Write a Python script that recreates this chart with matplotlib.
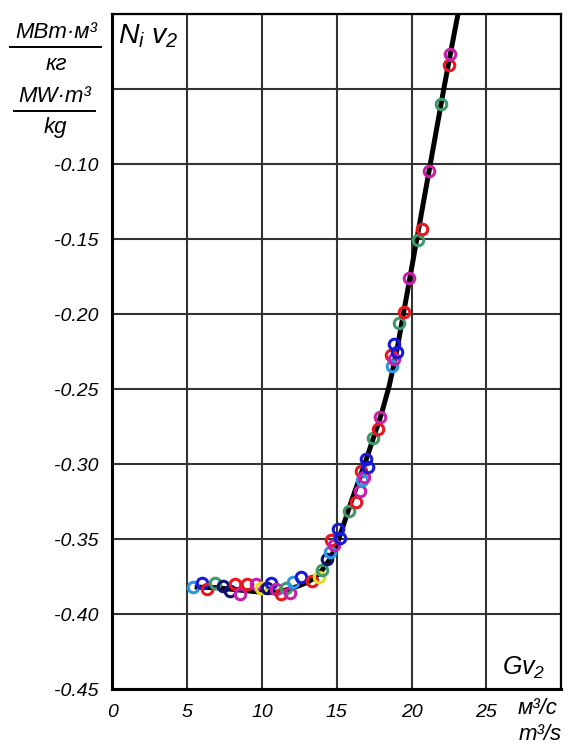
import matplotlib
matplotlib.use("Agg")
import matplotlib.pyplot as plt
from matplotlib.lines import Line2D

plt.rcParams['font.family'] = ['Liberation Sans', 'DejaVu Sans']
plt.rcParams['mathtext.fontset'] = 'custom'
plt.rcParams['mathtext.it'] = 'Liberation Sans:italic'
plt.rcParams['mathtext.rm'] = 'Liberation Sans:italic'

# fitted curve
curve_x = [5.5, 7.0, 8.5, 10.0, 11.0, 12.0, 13.0, 13.5, 14.0, 14.5, 15.0, 15.5,
           16.0, 16.5, 17.0, 17.5, 18.0, 18.5, 19.0, 19.45, 19.9, 20.35, 20.8,
           21.25, 21.7, 22.15, 22.62, 23.1]
curve_y = [-0.382, -0.3825, -0.384, -0.3855, -0.3855, -0.383, -0.379, -0.376,
           -0.371, -0.364, -0.354, -0.339, -0.324, -0.310, -0.296, -0.281,
           -0.266, -0.248, -0.225, -0.200, -0.175, -0.150, -0.125, -0.100,
           -0.075, -0.050, -0.025, 0.0]

# measured points
pt_x = [5.41, 5.99, 6.33, 6.87, 7.40, 7.87, 8.20, 8.54, 9.01, 9.61, 9.95, 10.35,
        10.61, 10.95, 11.28, 11.62, 11.89, 12.09, 12.60, 13.34, 13.78, 14.01,
        14.35, 14.57, 14.64, 14.79, 15.06, 15.24, 15.84, 16.31, 16.58, 16.62,
        16.69, 16.80, 16.96, 17.11, 17.40, 17.72, 17.92, 18.59, 18.72, 18.81,
        18.85, 19.05, 19.19, 19.46, 19.84, 20.40, 20.71, 21.15, 21.96, 22.49,
        22.60]
pt_y = [-0.3818, -0.3793, -0.3833, -0.3793, -0.3813, -0.3847, -0.380, -0.3867,
        -0.380, -0.380, -0.3827, -0.3827, -0.3793, -0.3833, -0.3867, -0.3827,
        -0.386, -0.3787, -0.3753, -0.378, -0.375, -0.3707, -0.3633, -0.3585,
        -0.3507, -0.354, -0.343, -0.3495, -0.3313, -0.325, -0.318, -0.3045,
        -0.3107, -0.3085, -0.2965, -0.3022, -0.2829, -0.2765, -0.2689, -0.2273,
        -0.2347, -0.230, -0.2197, -0.2253, -0.2059, -0.1985, -0.176, -0.1505,
        -0.1433, -0.1047, -0.060, -0.034, -0.0267]
pt_c = ['cyan', 'blue', 'red', 'green', 'navy', 'navy', 'red', 'magenta',
        'red', 'magenta', 'yellow', 'navy', 'blue', 'magenta', 'red', 'green',
        'magenta', 'cyan', 'blue', 'red', 'yellow', 'green', 'navy', 'cyan',
        'red', 'magenta', 'blue', 'blue', 'green', 'red', 'magenta', 'red',
        'cyan', 'magenta', 'blue', 'blue', 'green', 'red', 'magenta', 'red',
        'cyan', 'magenta', 'blue', 'blue', 'green', 'red', 'magenta', 'green',
        'red', 'magenta', 'green', 'red', 'magenta']

palette = {'red': '#e8161e', 'magenta': '#c81eaa', 'green': '#3c9a6a',
           'blue': '#1818d8', 'navy': '#101070', 'cyan': '#2a96e4',
           'yellow': '#e6dc1e'}

x_ticks = [0, 5, 10, 15, 20, 25, 30]
x_labels = ['0', '5', '10', '15', '20', '25', '']
y_ticks = [-0.45, -0.40, -0.35, -0.30, -0.25, -0.20, -0.15, -0.10, -0.05, 0.0]
y_labels = ['-0.45', '-0.40', '-0.35', '-0.30', '-0.25', '-0.20', '-0.15',
            '-0.10', '', '']

fig = plt.figure(figsize=(5.68, 7.47), dpi=100)
ax = fig.add_axes([0.198, 0.0776, 0.790, 0.9036])

ax.plot(curve_x, curve_y, color='black', lw=3.6, solid_capstyle='butt',
        solid_joinstyle='round', zorder=3)
for x, y, c in zip(pt_x, pt_y, pt_c):
    ax.plot(x, y, 'o', ms=7.6, mfc='none', mec=palette[c], mew=2.2, zorder=4)

ax.set_xlim(0, 30)
ax.set_ylim(-0.45, 0)
ax.set_xticks(x_ticks)
ax.set_xticklabels(x_labels, fontsize=14, fontstyle='italic')
ax.set_yticks(y_ticks)
ax.set_yticklabels(y_labels, fontsize=14, fontstyle='italic')
ax.tick_params(length=0)
ax.tick_params(axis='x', pad=11)
ax.tick_params(axis='y', pad=10)
ax.grid(True, color='#333333', lw=1.5)
ax.set_axisbelow(True)
for s in ax.spines.values():
    s.set_linewidth(1.6)
ax.spines['left'].set_linewidth(2.2)
ax.spines['bottom'].set_linewidth(2.2)

ax.text(0.012, 0.988, r'$N_i\ v_2$', transform=ax.transAxes, fontsize=20.5,
        ha='left', va='top')
ax.text(0.965, 0.012, r'$Gv_2$', transform=ax.transAxes, fontsize=18,
        ha='right', va='bottom')

# unit labels
W, H = 568, 747
def ftext(px, py, s, size=16):
    fig.text(px / W, 1 - py / H, s, fontsize=size, fontstyle='italic',
             ha='center', va='center')

ftext(56, 33, 'МВт·м³')
fig.add_artist(Line2D([10 / W, 101 / W], [1 - 47 / H, 1 - 47 / H],
                      color='black', lw=1.4))
ftext(56, 64, 'кг')
ftext(55, 97, 'MW·m³')
fig.add_artist(Line2D([14 / W, 95 / W], [1 - 111 / H, 1 - 111 / H],
                      color='black', lw=1.4))
ftext(55, 128, 'kg')
ftext(538, 709, 'м³/с', size=16)
ftext(540, 735, 'm³/s', size=16)

fig.savefig('out.png', dpi=100)
